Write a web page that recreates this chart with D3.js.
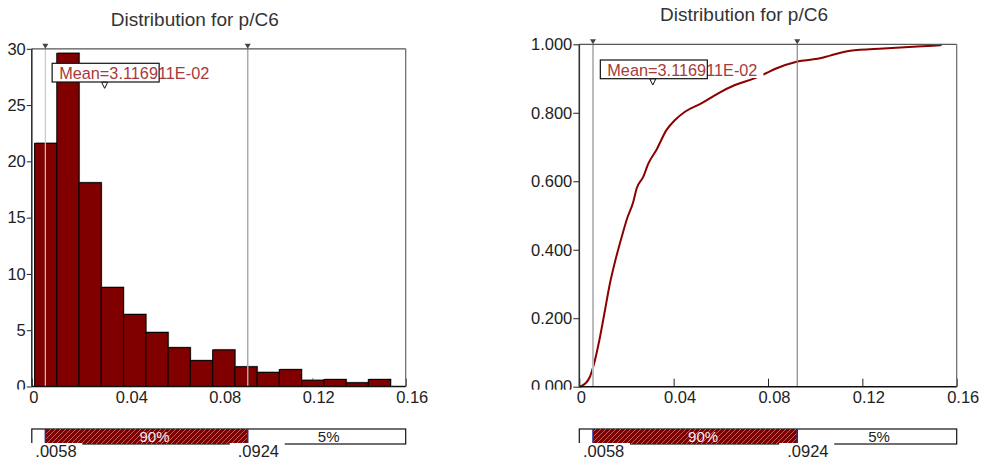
<!DOCTYPE html>
<html>
<head>
<meta charset="utf-8">
<script src="https://cdn.jsdelivr.net/npm/d3@7"></script>
<style>
  body { margin: 0; background: #fff; }
  svg { display: block; font-family: "Liberation Sans", Arial, sans-serif; }
</style>
</head>
<body>
<svg id="chart" width="985" height="465"></svg>
<script>
const chartTitle = 'Distribution for p/C6';

// histogram bins (left edge of each bin) and density
const binStarts = [0.0012, 0.0107, 0.0202, 0.0297, 0.0393, 0.0488, 0.0583, 0.0678,
                   0.0774, 0.0869, 0.0964, 0.1059, 0.1155, 0.1250, 0.1345, 0.1440];
const binWidth = 0.00952;
const binDensity = [21.6, 29.6, 18.1, 8.8, 6.4, 4.8, 3.45, 2.3,
                    3.25, 1.75, 1.25, 1.5, 0.55, 0.62, 0.33, 0.62];

// cumulative curve
const cdfX = [0, 0.001, 0.0045, 0.0059, 0.0088, 0.0109, 0.013, 0.0154, 0.018, 0.0203,
              0.0229, 0.0243, 0.0271, 0.0293, 0.0328, 0.037, 0.0406, 0.0448, 0.0519,
              0.0589, 0.066, 0.0745, 0.0787, 0.0837, 0.0921, 0.102, 0.1063, 0.1148,
              0.1289, 0.1416, 0.1529, 0.1536];
const cdfY = [0, 0.002, 0.029, 0.058, 0.146, 0.224, 0.302, 0.372, 0.438, 0.492,
              0.540, 0.579, 0.613, 0.652, 0.693, 0.750, 0.779, 0.803, 0.828,
              0.857, 0.881, 0.901, 0.914, 0.930, 0.949, 0.959, 0.967, 0.981,
              0.988, 0.993, 0.997, 1.0];

const percentiles = [0.0058, 0.0924];
const percentileLabels = ['.0058', '.0924'];
const bandLabels = ['90%', '5%'];
const meanValue = 0.03116911;
const meanLabel = 'Mean=3.116911E-02';

const xTicks = [0, 0.04, 0.08, 0.12, 0.16];
const histYTicks = [0, 5, 10, 15, 20, 25, 30];
const cdfYTicks = [0, 0.2, 0.4, 0.6, 0.8, 1];

const svg = d3.select('#chart');

// hatch for the 90% band
const defs = svg.append('defs');
const hatch = defs.append('pattern')
  .attr('id', 'hatch')
  .attr('patternUnits', 'userSpaceOnUse')
  .attr('width', 5).attr('height', 5);
hatch.append('rect').attr('width', 5).attr('height', 5).attr('fill', '#800000');
hatch.append('path')
  .attr('d', 'M-1,1 l2,-2 M0,5 l5,-5 M4,6 l2,-2')
  .attr('stroke', '#c07a7a').attr('stroke-width', 0.8);

function drawPanel(cfg) {
  const g = svg.append('g');
  const x = d3.scaleLinear().domain([0, 0.16]).range([cfg.left, cfg.right]);
  const y = d3.scaleLinear().domain(cfg.yDomain).range([cfg.bottom, cfg.top]);

  // title
  g.append('text')
    .attr('x', (cfg.left + cfg.right) / 2 - 24)
    .attr('y', cfg.titleY)
    .attr('text-anchor', 'middle')
    .attr('font-size', 19)
    .attr('fill', '#333')
    .text(chartTitle);

  // x axis ticks pointing up into the plot
  const xAxis = g.append('g')
    .attr('transform', `translate(0,${cfg.bottom})`)
    .call(d3.axisBottom(x).tickValues(xTicks).tickSize(-8).tickPadding(5)
      .tickFormat((d) => (d === 0 ? '0' : d3.format('.2f')(d))));
  xAxis.select('.domain').remove();
  xAxis.selectAll('line').attr('stroke', '#222');
  xAxis.selectAll('text')
    .attr('font-size', 16.5)
    .attr('fill', '#222')
    .attr('dx', (d) => (d === 0 ? 1.5 : 6));

  // y axis, labels clipped just under the baseline
  const clipId = 'clip' + cfg.id;
  defs.append('clipPath').attr('id', clipId)
    .append('rect').attr('x', cfg.left - 80).attr('y', 0)
    .attr('width', 82).attr('height', cfg.bottom + 3);
  const yWrap = g.append('g').attr('clip-path', `url(#${clipId})`);
  const yAxis = yWrap.append('g')
    .attr('transform', `translate(${cfg.left},0)`)
    .call(d3.axisLeft(y).tickValues(cfg.yTicks).tickSize(cfg.tickLen).tickPadding(1)
      .tickFormat(cfg.yFormat));
  yAxis.select('.domain').remove();
  yAxis.selectAll('line').attr('stroke', '#222');
  yAxis.selectAll('text').attr('font-size', 16.5).attr('fill', '#222');

  cfg.drawData(g, x, y);

  // percentile lines with markers
  g.selectAll('line.pct')
    .data(percentiles)
    .join('line')
    .attr('class', 'pct')
    .attr('x1', (d) => x(d)).attr('x2', (d) => x(d))
    .attr('y1', cfg.top).attr('y2', cfg.bottom)
    .attr('stroke', (d, i) => cfg.pctColors[i])
    .attr('stroke-width', (d, i) => cfg.pctWidths[i]);

  // frame
  g.append('line').attr('x1', cfg.left).attr('x2', cfg.right)
    .attr('y1', cfg.top).attr('y2', cfg.top)
    .attr('stroke', '#555').attr('stroke-width', 1.2);
  g.append('line').attr('x1', cfg.right).attr('x2', cfg.right)
    .attr('y1', cfg.top).attr('y2', cfg.bottom)
    .attr('stroke', '#666').attr('stroke-width', 1.2);
  g.append('line').attr('x1', cfg.left).attr('x2', cfg.left)
    .attr('y1', cfg.top).attr('y2', cfg.bottom)
    .attr('stroke', '#333').attr('stroke-width', 1.6);
  g.append('line').attr('x1', cfg.left).attr('x2', cfg.right)
    .attr('y1', cfg.bottom).attr('y2', cfg.bottom)
    .attr('stroke', '#111').attr('stroke-width', 1.6);

  g.selectAll('path.pmark')
    .data(percentiles)
    .join('path')
    .attr('class', 'pmark')
    .attr('d', (d) => `M${x(d) - 3},${cfg.top - 5} L${x(d) + 3},${cfg.top - 5} L${x(d)},${cfg.top} Z`)
    .attr('fill', '#444');

  // mean label
  const mx = x(meanValue);
  const boxX = mx - 52.5;
  const txt = g.append('text')
    .attr('x', boxX + 7)
    .attr('y', cfg.meanY + 16)
    .attr('font-size', 16.3)
    .attr('fill', '#a83a3a')
    .text(meanLabel);
  const bb = txt.node().getBBox();
  g.insert('rect', () => txt.node())
    .attr('x', bb.x).attr('y', bb.y + 2)
    .attr('width', bb.width + 6).attr('height', bb.height - 3)
    .attr('fill', '#fff');
  g.insert('rect', () => txt.node())
    .attr('x', boxX).attr('y', cfg.meanY)
    .attr('width', 107).attr('height', 18.7)
    .attr('fill', '#fff');
  g.append('rect')
    .attr('x', boxX).attr('y', cfg.meanY)
    .attr('width', 107).attr('height', 18.7)
    .attr('fill', 'none').attr('stroke', '#111').attr('stroke-width', 1.2);
  g.append('path')
    .attr('d', `M${mx - 3},${cfg.meanY + 19} L${mx + 3},${cfg.meanY + 19} L${mx},${cfg.meanY + 25} Z`)
    .attr('fill', '#fff').attr('stroke', '#111').attr('stroke-width', 1);

  // percentile band below the chart
  const bandTop = 429, bandH = 15;
  g.append('rect')
    .attr('x', cfg.left).attr('y', bandTop)
    .attr('width', cfg.right - cfg.left).attr('height', bandH)
    .attr('fill', '#fff').attr('stroke', '#111').attr('stroke-width', 1.2);
  g.append('rect')
    .attr('x', x(percentiles[0])).attr('y', bandTop)
    .attr('width', x(percentiles[1]) - x(percentiles[0])).attr('height', bandH)
    .attr('fill', 'url(#hatch)');
  g.selectAll('line.bedge')
    .data(percentiles)
    .join('line')
    .attr('class', 'bedge')
    .attr('x1', (d) => x(d)).attr('x2', (d) => x(d))
    .attr('y1', bandTop).attr('y2', bandTop + bandH)
    .attr('stroke', '#2a2a8a').attr('stroke-width', 1.5);
  g.append('text')
    .attr('x', (x(percentiles[0]) + x(percentiles[1])) / 2 + 8)
    .attr('y', bandTop + 13)
    .attr('text-anchor', 'middle')
    .attr('font-size', 15)
    .attr('fill', '#eee')
    .text(bandLabels[0]);
  g.append('text')
    .attr('x', (x(percentiles[1]) + cfg.right) / 2 + 2)
    .attr('y', bandTop + 13)
    .attr('text-anchor', 'middle')
    .attr('font-size', 15)
    .attr('fill', '#222')
    .text(bandLabels[1]);

  g.selectAll('rect.lbg')
    .data(percentiles)
    .join('rect')
    .attr('class', 'lbg')
    .attr('x', (d) => Math.max(x(d) - 18, cfg.left - 4))
    .attr('y', bandTop + bandH - 1)
    .attr('width', (d) => x(d) + 37 - Math.max(x(d) - 18, cfg.left - 4))
    .attr('height', 20)
    .attr('fill', '#fff');
  g.selectAll('text.plab')
    .data(percentiles)
    .join('text')
    .attr('class', 'plab')
    .attr('x', (d) => x(d) - 10)
    .attr('y', 457)
    .attr('font-size', 16.5)
    .attr('fill', '#222')
    .text((d, i) => percentileLabels[i]);
}

// left: histogram
drawPanel({
  id: 'h',
  left: 31.8, right: 405.7, top: 48.8, bottom: 386.5,
  titleY: 26, meanY: 63.3,
  yDomain: [0, 30], yTicks: histYTicks, yFormat: d3.format('d'), tickLen: 5,
  pctColors: ['#c8c8c8', '#aaaaaa'], pctWidths: [1.2, 1.5],
  drawData: (g, x, y) => {
    const w = x(binWidth) - x(0);
    g.selectAll('rect.shadow')
      .data(binStarts)
      .join('rect')
      .attr('class', 'shadow')
      .attr('x', (d) => x(d) + 1)
      .attr('y', (d, i) => y(binDensity[i]) - 1)
      .attr('width', w)
      .attr('height', (d, i) => y(0) - y(binDensity[i]))
      .attr('fill', '#9a9a9a');
    g.selectAll('rect.bar')
      .data(binStarts)
      .join('rect')
      .attr('class', 'bar')
      .attr('x', (d) => x(d))
      .attr('y', (d, i) => y(binDensity[i]))
      .attr('width', w)
      .attr('height', (d, i) => y(0) - y(binDensity[i]))
      .attr('fill', '#800000')
      .attr('stroke', '#000')
      .attr('stroke-width', 1);
  }
});

// right: cumulative
drawPanel({
  id: 'c',
  left: 579.3, right: 956.7, top: 44.3, bottom: 386.7,
  titleY: 20.7, meanY: 60,
  yDomain: [0, 1], yTicks: cdfYTicks, yFormat: d3.format('.3f'), tickLen: 6,
  pctColors: ['#bbbbbb', '#888888'], pctWidths: [2, 1.2],
  drawData: (g, x, y) => {
    const line = d3.line()
      .x((d) => x(d))
      .y((d, i) => y(cdfY[i]))
      .curve(d3.curveMonotoneX);
    g.append('path')
      .datum(cdfX)
      .attr('d', line)
      .attr('fill', 'none')
      .attr('stroke', '#8b0000')
      .attr('stroke-width', 2);
  }
});
</script>
</body>
</html>
